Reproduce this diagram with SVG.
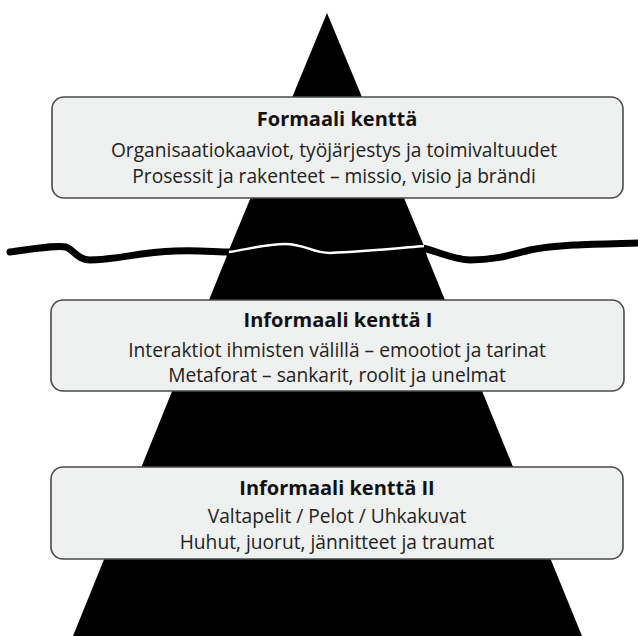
<svg xmlns="http://www.w3.org/2000/svg" width="638" height="636" viewBox="0 0 638 636">
  <style>
    .box { fill: #eff0f0; stroke: #4a4a4a; stroke-width: 1.6; }
    .title { font-family: "Open Sans", "Liberation Sans", sans-serif; font-weight: bold; font-size: 20px; fill: #111; text-anchor: middle; }
    .body { font-family: "Open Sans", "Liberation Sans", sans-serif; font-size: 19.2px; fill: #222; text-anchor: middle; }
  </style>
  <rect width="638" height="636" fill="#ffffff"/>
  <g id="pyramid">
    <polygon points="327,13 424,246 427,256 582,636 73,636 226,258 229,250" fill="#000"/>
    <path d="M 10 252 C 40 248, 58 245, 66 247 C 74 250, 78 260, 90 260 C 115 260, 140 252, 175 251 C 200 250, 215 252, 232 252" fill="none" stroke="#000" stroke-width="7" stroke-linecap="round"/>
    <path d="M 419 247 C 440 252, 455 260, 470 260 C 495 260, 510 255, 530 250 C 560 244, 600 244, 638 243" fill="none" stroke="#000" stroke-width="7"/>
    <path d="M 229 252 C 245 250, 265 244, 285 244 C 305 244, 312 253, 330 253 C 360 252, 390 249, 424 246" fill="none" stroke="#fff" stroke-width="2.5"/>
  </g>
  <g id="formaali">
    <rect class="box" x="52" y="97" width="571" height="101" rx="12"/>
    <text class="title" x="337" y="126">Formaali kenttä</text>
    <text class="body" x="334" y="157">Organisaatiokaaviot, työjärjestys ja toimivaltuudet</text>
    <text class="body" x="334" y="183">Prosessit ja rakenteet – missio, visio ja brändi</text>
  </g>
  <g id="informaali1">
    <rect class="box" x="51" y="300" width="573" height="91" rx="12"/>
    <text class="title" x="338" y="327">Informaali kenttä I</text>
    <text class="body" x="337" y="357">Interaktiot ihmisten välillä – emootiot ja tarinat</text>
    <text class="body" x="337" y="382">Metaforat – sankarit, roolit ja unelmat</text>
  </g>
  <g id="informaali2">
    <rect class="box" x="51" y="467" width="572" height="92" rx="12"/>
    <text class="title" x="337" y="495">Informaali kenttä II</text>
    <text class="body" x="337" y="523">Valtapelit / Pelot / Uhkakuvat</text>
    <text class="body" x="337" y="549">Huhut, juorut, jännitteet ja traumat</text>
  </g>
  <g id="connectors"></g>
</svg>
